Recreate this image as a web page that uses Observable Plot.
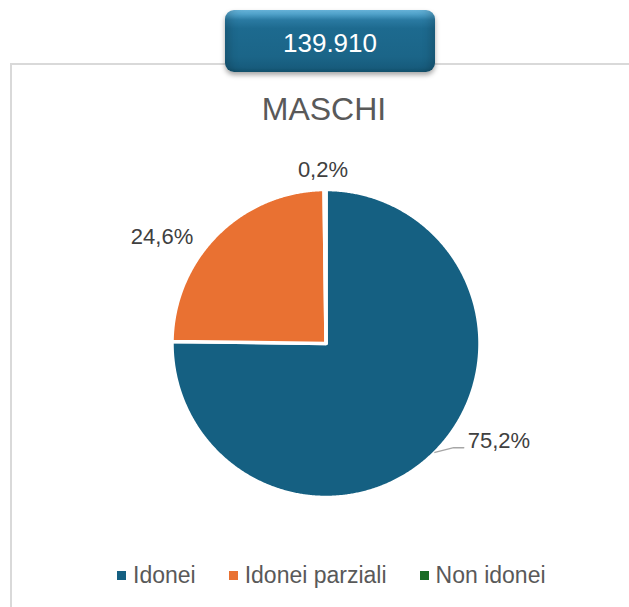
<!DOCTYPE html>
<html>
<head>
<meta charset="utf-8">
<script src="https://cdn.jsdelivr.net/npm/d3@7"></script>
<script src="https://cdn.jsdelivr.net/npm/@observablehq/plot@0.6"></script>
<style>
  html, body { margin: 0; padding: 0; background: #fff; }
  body { width: 629px; height: 607px; position: relative; overflow: hidden; font-family: "Liberation Sans", Arial, sans-serif; }
  #frame { position: absolute; left: 10px; top: 63px; width: 720px; height: 720px; border: 2px solid #d9d9d9; box-sizing: border-box; }
  #chart { position: absolute; left: 0; top: 0; }
  #title { position: absolute; left: 0; top: 93px; width: 648px; text-align: center; font-size: 32px; line-height: 1; color: #595959; }
  #legend { position: absolute; left: 117px; top: 564px; display: flex; align-items: center; font-size: 23px; line-height: 1; color: #595959; }
  #legend .item { display: flex; align-items: center; margin-right: 33px; }
  #legend .sw { width: 9px; height: 9px; margin-right: 7px; }
  #badge { position: absolute; left: 225px; top: 10px; width: 210px; height: 62px; border-radius: 9px; box-sizing: border-box;
    background: linear-gradient(to bottom, #6ab8de 0%, #4a9cc4 8%, #2a7aa2 16%, #1d6a8f 30%, #1b6588 75%, #175c7d 92%, #14536f 100%);
    box-shadow: 0 3px 5px rgba(0,0,0,0.35), inset 10px 0 10px -6px rgba(0,0,0,0.18), inset -10px 0 10px -6px rgba(0,0,0,0.18);
    display: flex; align-items: center; justify-content: center; padding-top: 3px;
    color: #fff; font-size: 26px; line-height: 1; }
</style>
</head>
<body>
<div id="frame"></div>
<div id="chart"></div>
<div id="title"></div>
<div id="legend"></div>
<div id="badge"></div>
<script>
// ---- data ----
const totalLabel = "139.910";
const chartTitle = "MASCHI";
const categories = ["Idonei", "Idonei parziali", "Non idonei"];
const percents = [75.2, 24.6, 0.2];
const percentLabels = ["75,2%", "24,6%", "0,2%"];
const colors = ["#156082", "#E97132", "#196B24"];

// ---- layout (not data) ----
const W = 629, H = 607;
const deg = Math.PI / 180;
// label placement: angle (deg, clockwise from 12 o'clock) and radius factor
const labelPlacement = {
  "Idonei": {leader: true},
  "Idonei parziali": {angle: 302.9, f: 1.268},
  "Non idonei": {angle: 359.0, f: 1.13}
};
const polar = (a, f) => [Math.sin(a) * f, -Math.cos(a) * f];

const rows = categories.map((c, i) => ({name: c, value: percents[i], label: percentLabels[i]}));
const arcs = d3.pie().sort(null).value(d => d.value)(rows);

const features = arcs.map(a => {
  const steps = Math.max(2, Math.ceil((a.endAngle - a.startAngle) / (0.4 * deg)));
  const ring = [[0, 0]];
  for (let k = 0; k <= steps; ++k) {
    const t = a.startAngle + (a.endAngle - a.startAngle) * k / steps;
    ring.push(polar(t, 1));
  }
  ring.push([0, 0]);
  return {type: "Feature", properties: {name: a.data.name}, geometry: {type: "Polygon", coordinates: [ring]}};
});

// leader line for the big slice
const leaderStart = polar(135 * deg, 1.0);
const leaderBend = polar(129.2 * deg, 1.07);
const leaderEnd = [leaderBend[0] + 0.065, leaderBend[1]];
const leader = {type: "LineString", coordinates: [leaderStart, leaderBend, leaderEnd]};

const textRows = arcs.map(a => {
  const p = labelPlacement[a.data.name];
  if (p.leader) return {x: leaderEnd[0], y: leaderEnd[1], label: a.data.label, anchor: "start"};
  const [x, y] = polar(p.angle * deg, p.f);
  return {x, y, label: a.data.label, anchor: "middle"};
});

const R = 154, cx = 325.5, cy = 343, pad = 1.2;
const plot = Plot.plot({
  width: W,
  height: H,
  marginLeft: cx - pad * R,
  marginRight: W - (cx + pad * R),
  marginTop: cy - pad * R,
  marginBottom: H - (cy + pad * R),
  inset: 0,
  style: {background: "transparent", overflow: "visible"},
  projection: {type: "identity", clip: false, domain: {type: "MultiPoint", coordinates: [[-pad, -pad], [pad, pad]]}},
  color: {domain: categories, range: colors},
  marks: [
    Plot.geo(features, {fill: d => d.properties.name, stroke: "white", strokeWidth: 3.5, strokeLinejoin: "round"}),
    Plot.geo([leader], {fill: "none", stroke: "#a6a6a6", strokeWidth: 1.5}),
    Plot.text(textRows.filter(d => d.anchor === "start"), {x: "x", y: "y", text: "label", textAnchor: "start", dx: 4, dy: -7, fontSize: 22, fill: "#404040", fontFamily: "Liberation Sans, Arial, sans-serif"}),
    Plot.text(textRows.filter(d => d.anchor === "middle"), {x: "x", y: "y", text: "label", textAnchor: "middle", fontSize: 22, fill: "#404040", fontFamily: "Liberation Sans, Arial, sans-serif"})
  ]
});
document.getElementById("chart").appendChild(plot);

document.getElementById("title").textContent = chartTitle;
document.getElementById("badge").textContent = totalLabel;
const legend = document.getElementById("legend");
categories.forEach((c, i) => {
  const item = document.createElement("div");
  item.className = "item";
  const sw = document.createElement("span");
  sw.className = "sw";
  sw.style.background = colors[i];
  const t = document.createElement("span");
  t.textContent = c;
  item.appendChild(sw);
  item.appendChild(t);
  legend.appendChild(item);
});
</script>
</body>
</html>
